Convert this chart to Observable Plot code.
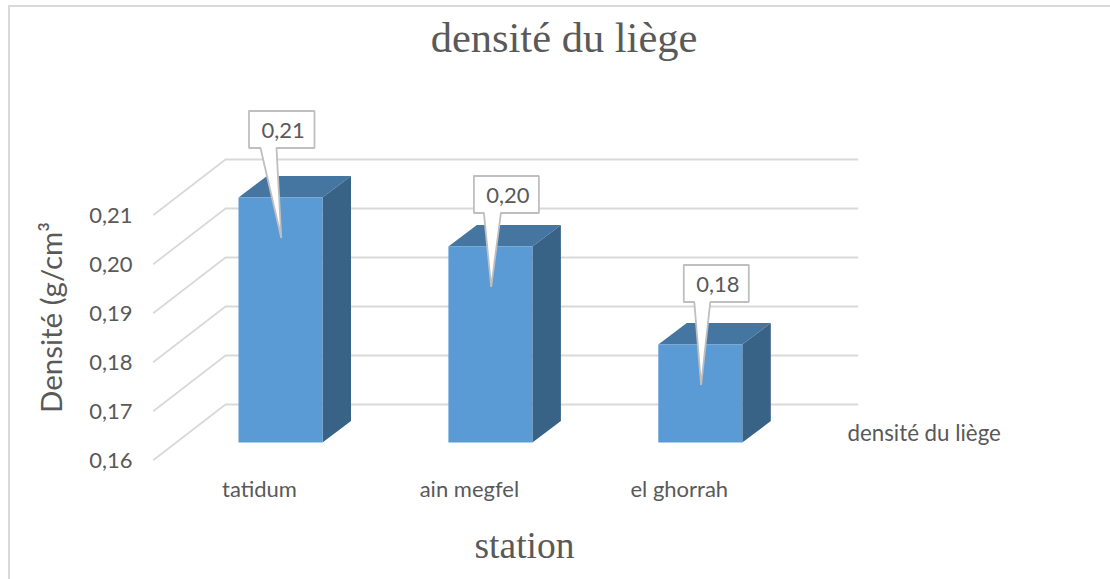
<!DOCTYPE html>
<html lang="fr">
<head>
<meta charset="utf-8">
<style>
  html, body { margin: 0; padding: 0; background: #fff; width: 1110px; height: 579px; overflow: hidden; }
  #chart { position: relative; width: 1110px; height: 579px; }
  #chart svg { display: block; }
  #border { position: absolute; left: 8px; top: 5px; right: -4px; bottom: -4px; border: 2px solid #d9d9d9; pointer-events: none; }
</style>
<script src="https://cdn.jsdelivr.net/npm/d3@7"></script>
<script src="https://cdn.jsdelivr.net/npm/@observablehq/plot@0.6"></script>
</head>
<body>
<div id="chart"><div id="border"></div></div>
<script>
// Chart values
const stations = ["tatidum", "ain megfel", "el ghorrah"];
const densities = [0.21, 0.20, 0.18];
const yTicks = [0.16, 0.17, 0.18, 0.19, 0.20, 0.21];
const chartTitle = "densité du liège";
const xTitle = "station";
const yTitle = "Densité (g/cm³";
const seriesName = "densité du liège";

// Layout helpers: pixels <-> data units of the Plot scales
const xRange = [280.5, 700.3], yRange = [442.5, 197.5];
const X = d3.scaleLinear([0, 2], xRange);
const Y = d3.scaleLinear([0.16, 0.21], yRange);
const ux = px => px * 2 / (xRange[1] - xRange[0]);
const uy = px => -px * 0.05 / (yRange[0] - yRange[1]);
const fmt = v => v.toFixed(2).replace(".", ",");

const halfW = ux(42), depthX = ux(28.5), depthY = uy(-21.5);
const base = yTicks[0];

const bars = stations.map((s, i) => ({s, i, v: densities[i]}));
const sideFaces = bars.flatMap(b => [
  {s: b.s, x: b.i + halfW, y1: base, y2: b.v},
  {s: b.s, x: b.i + halfW + depthX, y1: base + depthY, y2: b.v + depthY}
]);
const topFaces = bars.flatMap(b => [
  {s: b.s, y: b.v, x1: b.i - halfW, x2: b.i + halfW},
  {s: b.s, y: b.v + depthY, x1: b.i - halfW + depthX, x2: b.i + halfW + depthX}
]);
const grid = yTicks.flatMap(t => [
  {t, x: X.invert(153.3), y: t + uy(16.8)},
  {t, x: X.invert(225), y: t + uy(-38.5)},
  {t, x: X.invert(857), y: t + uy(-38.5)}
]);

// Callout geometry relative to each bar's top centre (pixels)
const calloutLayout = [
  {l: -32, r: 33.5, t: -87, b: -50, w0: -20.5, w1: -4.5},
  {l: -17, r: 48,   t: -71, b: -34, w0: -7,    w1: 10},
  {l: -17, r: 48,   t: -80, b: -43, w0: -6.5,  w1: 9.5}
];
const callouts = bars.flatMap((b, i) => {
  const c = calloutLayout[i];
  const pts = [[c.l, c.t], [c.r, c.t], [c.r, c.b], [c.w1, c.b], [0.3, 40], [c.w0, c.b], [c.l, c.b], [c.l, c.t]];
  return pts.map(([dx, dy]) => ({s: b.s, x: b.i + ux(dx), y: b.v + uy(dy)}));
});
const calloutLabels = bars.map((b, i) => {
  const c = calloutLayout[i];
  return {label: fmt(b.v), x: b.i + ux((c.l + c.r) / 2 + 1.5), y: b.v + uy((c.t + c.b) / 2 + 1)};
});

const ink = "#595959";
const plot = Plot.plot({
  width: 1110, height: 579,
  marginTop: 0, marginRight: 0, marginLeft: 136, marginBottom: 109,
  x: {type: "linear", domain: [0, 2], range: xRange},
  y: {type: "linear", domain: [0.16, 0.21], range: yRange},
  style: {fontFamily: "Lato, 'Open Sans', sans-serif", background: "transparent", color: ink, overflow: "visible"},
  marks: [
    Plot.line(grid, {x: "x", y: "y", z: "t", stroke: "#d9d9d9", strokeWidth: 1.8}),
    Plot.areaX(topFaces, {y: "y", x1: "x1", x2: "x2", z: "s", fill: "#4575a1"}),
    Plot.areaY(sideFaces, {x: "x", y1: "y1", y2: "y2", z: "s", fill: "#386386"}),
    Plot.rect(bars, {x1: b => b.i - halfW, x2: b => b.i + halfW, y1: base, y2: "v", fill: "#5b9bd5"}),
    Plot.line(callouts, {x: "x", y: "y", z: "s", fill: "#fff", stroke: "#bfbfbf", strokeWidth: 1.8, strokeLinejoin: "miter"}),
    Plot.text(calloutLabels, {x: "x", y: "y", text: "label", fontSize: 22, fill: ink}),
    Plot.axisY({anchor: "left", ticks: yTicks, tickFormat: fmt, tickSize: 0, tickPadding: 4, dy: 17.5, label: null, fontSize: 22, color: ink}),
    Plot.axisX({anchor: "bottom", ticks: [0, 1, 2], tickFormat: i => stations[i], tickSize: 0, tickPadding: 11, dx: -21.5, label: null, fontSize: 22, color: ink}),
    Plot.text([chartTitle], {x: X.invert(563.5), y: Y.invert(37.5), text: d => d, fontFamily: "'Liberation Serif', serif", fontSize: 42.5, fill: ink}),
    Plot.text([xTitle], {x: X.invert(524), y: Y.invert(545.5), text: d => d, fontFamily: "'Liberation Serif', serif", fontSize: 37.5, fill: ink}),
    Plot.text([yTitle], {x: X.invert(52), y: Y.invert(317), text: d => d, rotate: -90, fontSize: 29.5, fill: ink}),
    Plot.text([seriesName], {x: X.invert(847), y: Y.invert(433), text: d => d, textAnchor: "start", fontSize: 22.3, fill: ink})
  ]
});
document.getElementById("chart").prepend(plot);
</script>
</body>
</html>
